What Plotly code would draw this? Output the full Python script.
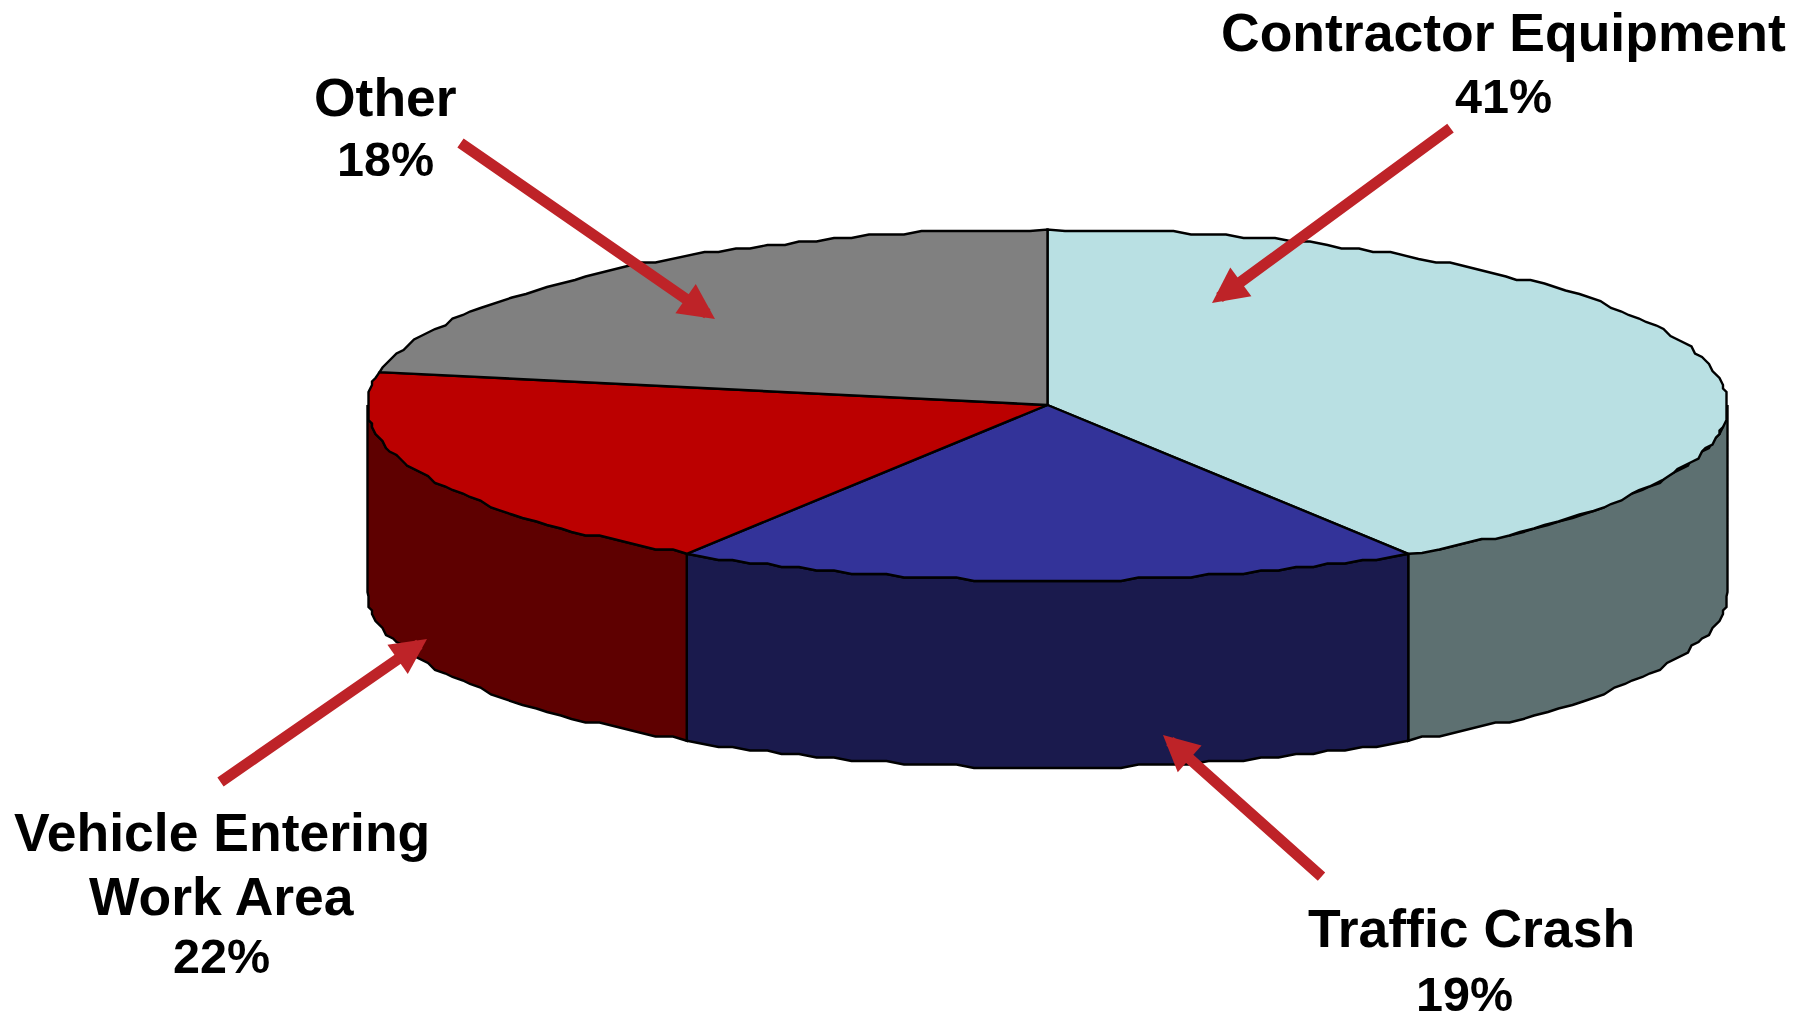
import numpy as np
import plotly.graph_objects as go

# Slice shares, clockwise from 12 o'clock (read from the slice boundaries)
slice_names = ["Light blue", "Blue", "Red", "Gray"]
slice_values = [41.1, 17.8, 19.1, 22.0]
top_colors = ["#B9E0E3", "#333399", "#BB0000", "#808080"]
side_colors = ["#5D7071", "#1A1A4D", "#5E0000", "#808080"]

# Callouts as printed in the reference
label_text = ["Contractor Equipment", "41%", "Other", "18%", "Vehicle Entering",
              "Work Area", "22%", "Traffic Crash", "19%"]
label_x = [1503.5, 1503, 385, 385, 221.5, 221.5, 221.5, 1471, 1464]
label_y = [32, 96, 97, 159, 832, 896, 956, 928, 994]
label_size = [53.5, 48.5, 53.5, 48.5, 53.5, 53.5, 48.5, 53.5, 48.5]
arrow_tails = [(1452, 127), (459, 142), (219, 783), (1323, 878)]
arrow_tips = [(1212, 303), (715, 319), (427, 639), (1163, 735)]

CX, CY, RX, RY, DEPTH, GRID = 1047.5, 405, 680, 175.5, 187, 3.5
EDGE_WIDTH = 2.4
ARROW = "#BE2328"
FONT = "Liberation Sans"


def rim(a0, a1, drop=0.0):
    """Ellipse arc, snapped to the coarse grid of the original metafile."""
    n = max(2, int(abs(a1 - a0) / 1.5) + 1)
    t = np.radians(np.linspace(a0, a1, n))
    x = CX + RX * np.sin(t)
    y = CY - RY * np.cos(t)
    inner_x = np.round((x - CX) / GRID) * GRID + CX
    inner_y = np.round(y / GRID) * GRID
    inner_x[[0, -1]] = x[[0, -1]]
    inner_y[[0, -1]] = y[[0, -1]]
    return inner_x, inner_y + drop


edges = np.concatenate([[0], np.cumsum(slice_values)]) * 3.6
fig = go.Figure()

# Side walls: only the front half of the cake is visible
for i, name in enumerate(slice_names):
    a0, a1 = max(edges[i], 90), min(edges[i + 1], 270)
    if a1 <= a0:
        continue
    tx, ty = rim(a0, a1)
    bx, by = rim(a0, a1, DEPTH)
    fig.add_trace(go.Scatter(
        x=np.concatenate([tx, bx[::-1], tx[:1]]),
        y=np.concatenate([ty, by[::-1], ty[:1]]),
        mode="lines", fill="toself", fillcolor=side_colors[i],
        line=dict(color="black", width=EDGE_WIDTH), hoverinfo="skip", showlegend=False))

# Top faces
for i, name in enumerate(slice_names):
    tx, ty = rim(edges[i], edges[i + 1])
    fig.add_trace(go.Scatter(
        x=np.concatenate([[CX], tx, [CX]]),
        y=np.concatenate([[CY], ty, [CY]]),
        mode="lines", fill="toself", fillcolor=top_colors[i],
        line=dict(color="black", width=EDGE_WIDTH), hoverinfo="skip", showlegend=False,
        name=name))

annotations = []
for tail, tip in zip(arrow_tails, arrow_tips):
    annotations.append(dict(
        x=tip[0], y=tip[1], ax=tail[0], ay=tail[1], xref="x", yref="y",
        axref="x", ayref="y", text="", showarrow=True, arrowhead=2,
        arrowsize=0.65, arrowwidth=11, arrowcolor=ARROW, standoff=0))
for text, x, y, size in zip(label_text, label_x, label_y, label_size):
    annotations.append(dict(
        x=x, y=y, xref="x", yref="y", text=text, showarrow=False,
        xanchor="center", yanchor="middle",
        font=dict(family=FONT, size=size, color="black", weight="bold")))

fig.update_layout(
    width=1809, height=1016, margin=dict(l=0, r=0, t=0, b=0),
    paper_bgcolor="white", plot_bgcolor="white", showlegend=False,
    xaxis=dict(range=[0, 1809], visible=False, fixedrange=True),
    yaxis=dict(range=[1016, 0], visible=False, fixedrange=True),
    annotations=annotations)

fig.write_html("out.html", config=dict(displayModeBar=False),
               post_script="document.body.style.margin='0';document.body.style.overflow='hidden';")
